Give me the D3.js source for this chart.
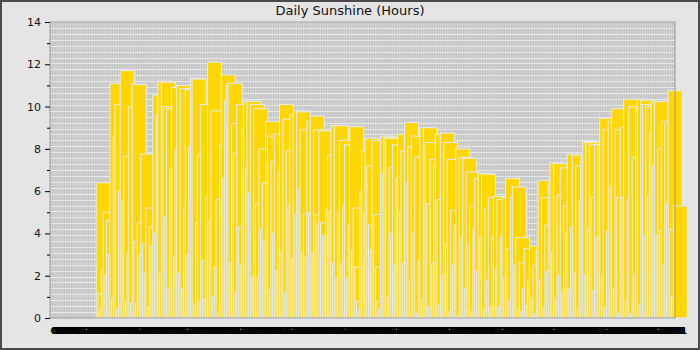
<!DOCTYPE html>
<html>
<head>
<meta charset="utf-8">
<script src="https://cdn.jsdelivr.net/npm/d3@7"></script>
<style>
  body { margin: 0; background: #fff; }
  text { font-family: "DejaVu Sans", sans-serif; }
</style>
</head>
<body>
<svg id="svg" width="700" height="350"></svg>
<script>
// DATA - hours of sunshine per day, one array per month
var year = 2021;
var janSun = [0,0,0,0,0,0,0,0,0,0,0,0,0,0,0,0,0,0,0,0,0,0,0,0,0,0,0, 6.4,1.15,0.4,2.3];
var febSun = [5.0,2.0,4.6,3.0,11.1,0.9,8.6,10.1,0.4,6.0,11.7,5.5,7.65,0.8,3.1,10.0,0.7,11.05,3.6,0.7,4.5,3.0,7.75,3.5,2.1,5.2,0.5,4.3];
var marSun = [3.4,10.55,4.0,9.6,11.2,2.1,11.15,10.0,4.8,9.9,1.4,7.0,10.9,2.9,8.0,11.0,2.1,10.85,1.4,5.2,10.8,3.0,8.1,11.35,11.3,0.6,4.5,7.7,0.8,10.1,2.7];
var aprSun = [0.9,5.7,12.1,4.6,9.8,1.0,2.4,5.6,0.3,8.2,11.5,6.6,10.3,11.0,11.1,2.6,9.2,7.8,1.2,10.1,4.3,2.5,8.9,10.25,7.1,10.25,5.9,10.1,1.9,9.9];
var maySun = [5.4,2.0,8.0,4.2,6.4,3.6,9.3,8.6,1.3,7.4,4.0,8.7,2.2,6.8,10.1,3.1,9.4,1.2,7.9,5.3,9.6,2.8,9.8,4.9,9.75,6.1,8.9,3.1,4.9,2.9,9.3];
var junSun = [5.0,9.55,3.1,8.9,4.9,4.5,8.85,4.5,3.9,3.8,5.1,7.7,5.06,9.1,2.6,9.1,1.9,4.95,8.4,2.6,5.3,8.2,1.9,4.4,9.05,3.2,5.2,2.4,0.8,0.4];
var julSun = [6.0,7.9,5.0,8.5,7.2,4.4,3.2,8.4,4.9,2.4,0.8,0.4,8.6,6.8,8.55,8.5,1.0,7.1,4.0,8.2,2.5,6.6,8.7,5.0,7.9,2.6,9.25,6.4,8.1,1.7,8.6];
var augSun = [4.0,7.6,0.2,2.7,9.0,0.9,9.0,8.3,5.4,0.5,7.5,2.6,7.3,8.7,5.6,0.6,8.75,2.0,8.3,3.5,7.5,0.3,5.1,2.5,4.4,8.0,0.1,7.6,3.8,7.55,1.4];
var sepSun = [6.9,3.4,5.3,0.3,4.2,6.6,2.2,6.85,3.8,6.8,0.4,5.2,1.8,5.7,0.5,3.8,5.75,2.3,5.6,0.5,3.8,5.7,1.9,6.6,3.3,0.8,5.7,6.2,2.5,3.8];
var octSun = [0.4,2.6,0.3,1.4,3.3,0.6,1.8,3.4,0.9,2.5,0.2,3.2,6.5,1.8,5.7,0.5,4.4,2.2,6.4,7.35,3.1,7.3,0.9,5.8,2.0,7.1,1.2,5.3,4.0,7.75,1.4];
var novSun = [4.3,7.7,2.1,7.2,0.4,5.5,7.6,8.35,2.0,8.3,4.2,8.2,5.7,1.3,8.2,3.8,8.2,9.45,2.0,8.9,0.5,4.1,9.3,6.2,9.9,1.4,8.9,5.7,0.2,9.0];
var decSun = [5.7,10.35,0.8,5.6,10.0,0.2,7.6,2.0,9.9,10.35,0.6,10.3,10.1,3.9,10.0,5.7,8.7,10.2,7.2,10.25,3.9,8.0,4.1,9.3,2.5,9.2,5.4,10.75,4.2,1.0,5.3];
var monthly = [janSun, febSun, marSun, aprSun, maySun, junSun, julSun, augSun, sepSun, octSun, novSun, decSun];
var yTicks = [0, 2, 4, 6, 8, 10, 12, 14];
var yMinorTicks = [1, 3, 5, 7, 9, 11, 13];

var data = [];
monthly.forEach(function (m, mi) {
  m.forEach(function (v, di) {
    data.push({ date: new Date(year, mi, di + 1), hours: v });
  });
});

// SETUP
var svg = d3.select("#svg"),
  margin = { top: 22, right: 25, bottom: 32, left: 50 },
  width = 700 - margin.left - margin.right,
  height = 350 - margin.top - margin.bottom;

var x = d3.scaleTime()
  .domain([new Date(year, 0, 1), new Date(year + 1, 0, 1)])
  .range([0, width]);
var y = d3.scaleLinear().domain([0, 14]).range([height, 0]);

// outer panel
svg.append("rect")
  .attr("x", 1).attr("y", 1).attr("width", 698).attr("height", 348)
  .attr("fill", "#e5e5e5")
  .attr("stroke", "#4a4a4a")
  .attr("stroke-width", 2);

svg.append("text")
  .attr("x", 350).attr("y", 15)
  .attr("text-anchor", "middle")
  .attr("font-size", 13)
  .attr("fill", "#111")
  .text("Daily Sunshine (Hours)");

var g = svg.append("g")
  .attr("transform", "translate(" + margin.left + "," + margin.top + ")");

// plot background + grid
g.append("rect")
  .attr("width", width).attr("height", height)
  .attr("fill", "#bdbdbd");

var days = d3.timeDay.range(new Date(year, 0, 1), new Date(year + 1, 0, 1));
g.append("g").selectAll("line")
  .data(days)
  .join("line")
  .attr("x1", function (d) { return x(d); })
  .attr("x2", function (d) { return x(d); })
  .attr("y1", 0).attr("y2", height)
  .attr("stroke", "#e8e8e8")
  .attr("stroke-width", 0.6);

g.append("g").selectAll("line")
  .data(d3.range(0, 51).map(function (i) { return 14 * i / 50; }))
  .join("line")
  .attr("x1", 0).attr("x2", width)
  .attr("y1", function (d) { return Math.round(y(d)) + 0.5; })
  .attr("y2", function (d) { return Math.round(y(d)) + 0.5; })
  .attr("stroke", "#e8e8e8")
  .attr("stroke-width", 1);

// bars - drawn in date order, wide enough to overlap
g.append("g").selectAll("rect")
  .data(data.filter(function (d) { return d.hours > 0; }))
  .join("rect")
  .attr("x", function (d) { return x(d.date); })
  .attr("y", function (d) { return y(d.hours); })
  .attr("width", 14)
  .attr("height", function (d) { return y(0) - y(d.hours); })
  .attr("fill", "#ffd700")
  .attr("stroke", "#e4ecf6")
  .attr("stroke-width", 1);

// frame
g.append("rect")
  .attr("width", width).attr("height", height)
  .attr("fill", "none")
  .attr("stroke", "#9a9a9a")
  .attr("stroke-width", 1);

// y axis
var yAxis = g.append("g")
  .call(d3.axisLeft(y).tickValues(yTicks).tickSize(5).tickPadding(4));
yAxis.select(".domain").remove();
yAxis.selectAll("text").attr("font-size", 11).attr("font-family", "DejaVu Sans").attr("fill", "#111");

var yMinor = g.append("g")
  .call(d3.axisLeft(y).tickValues(yMinorTicks).tickSize(3).tickFormat(""));
yMinor.select(".domain").remove();

// x axis - a label for every day
var xAxis = g.append("g")
  .attr("transform", "translate(0," + height + ")")
  .call(d3.axisBottom(x).tickValues(days).tickSize(0).tickPadding(9)
    .tickFormat(d3.timeFormat("%d")));
xAxis.select(".domain").remove();
xAxis.selectAll("text")
  .attr("text-anchor", "start")
  .attr("font-size", 9.5)
  .attr("font-weight", "bold")
  .attr("font-family", "DejaVu Sans")
  .attr("fill", "#000");
</script>
</body>
</html>
